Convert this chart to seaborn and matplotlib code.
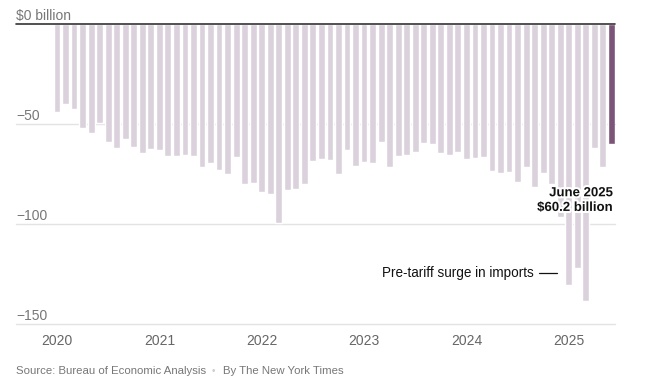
import pandas as pd
import matplotlib.pyplot as plt
import matplotlib.patheffects as pe
import seaborn as sns

# monthly goods & services trade balance, billions of dollars (Jan 2020 - Jun 2025)
years = [2020, 2021, 2022, 2023, 2024, 2025]
deficit_2020 = [43.8, 40.2, 42.7, 52.2, 54.3, 49.5, 59.2, 62.2, 57.3, 61.5, 64.7, 62.3]
deficit_2021 = [63.2, 66.0, 66.0, 65.3, 66.2, 71.5, 69.3, 73.0, 75.0, 66.3, 79.8, 79.5]
deficit_2022 = [83.8, 85.2, 99.7, 83.2, 82.5, 80.2, 68.7, 67.3, 68.2, 75.2, 63.0, 70.8]
deficit_2023 = [69.0, 69.5, 58.8, 71.3, 66.2, 65.5, 64.0, 59.3, 59.8, 64.3, 65.3, 64.2]
deficit_2024 = [67.3, 66.8, 66.7, 73.3, 74.7, 74.2, 78.8, 71.5, 81.7, 74.3, 80.0, 96.3]
deficit_2025 = [130.5, 122.2, 138.5, 61.8, 71.7, 60.2]

y_ticks = [0, -50, -100, -150]
y_labels = ['$0 billion', '\u221250', '\u2212100', '\u2212150']

light = '#dad1dc'
dark = '#7b5477'

values = deficit_2020 + deficit_2021 + deficit_2022 + deficit_2023 + deficit_2024 + deficit_2025
months = pd.date_range('2020-01-01', periods=len(values), freq='MS').strftime('%Y-%m')
df = pd.DataFrame({'month': months, 'balance': [-v for v in values]})
df['latest'] = df['month'] == df['month'].iloc[-1]

sns.set_style('white')
plt.rcParams['font.family'] = ['Liberation Sans', 'DejaVu Sans']

fig = plt.figure(figsize=(6.46, 3.82), dpi=100)
ax = fig.add_axes([16 / 646, 58 / 382, 599 / 646, 300 / 382])

sns.barplot(data=df, x='month', y='balance', hue='latest',
            palette={False: light, True: dark}, dodge=False, width=0.8,
            saturation=1, legend=False, ax=ax, zorder=2)

ax.set_xlim(-4.81, 65.42)
ax.set_ylim(-150, 0)
sns.despine(ax=ax, left=True, bottom=True)

for v, lab in zip(y_ticks, y_labels):
    if v == 0:
        ax.axhline(v, color='#333333', lw=1.2, zorder=3, clip_on=False)
    else:
        ax.axhline(v, color='#e3e3e3', lw=1, zorder=0, clip_on=False)
    ax.annotate(lab, xy=(0, v), xycoords=('axes fraction', 'data'),
                xytext=(0, 3), textcoords='offset points',
                ha='left', va='baseline', fontsize=10, color='#777777')

ax.set_yticks([])
ax.set_xticks([12 * i for i in range(len(years))], [str(y) for y in years])
ax.tick_params(axis='x', length=0, pad=7, labelsize=10, labelcolor='#666666')
ax.set_xlabel('')
ax.set_ylabel('')

ax.text(65.2, -88.3, 'June 2025\n$60.2 billion', ha='right', va='center',
        fontsize=9.5, fontweight='bold', color='#121212', linespacing=1.3,
        zorder=5, path_effects=[pe.withStroke(linewidth=3, foreground='white')])

ax.text(55.9, -124.5, 'Pre-tariff surge in imports', ha='right', va='center',
        fontsize=9.75, color='#121212', zorder=5)
ax.plot([56.5, 58.6], [-124.5, -124.5], color='#121212', lw=0.9, zorder=5)

fig.text(16 / 646, 1 - 371 / 382, 'Source: Bureau of Economic Analysis',
         va='center', fontsize=8.2, color='#777777')
fig.text(213 / 646, 1 - 371 / 382, '\u2022', va='center', ha='center',
         fontsize=7, color='#cccccc')
fig.text(223 / 646, 1 - 371 / 382, 'By The New York Times',
         va='center', fontsize=8.2, color='#777777')

fig.savefig('out.png', dpi=100)
